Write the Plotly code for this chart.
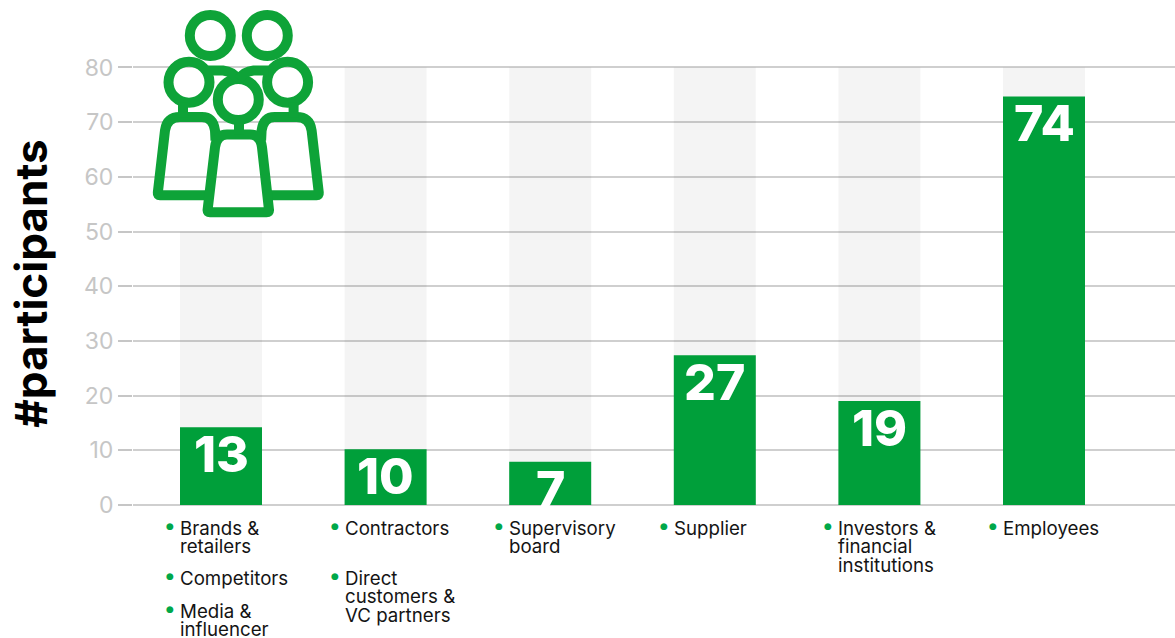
"""Participants per stakeholder group, green bars on grey tracks with a people icon."""
import plotly.graph_objects as go

# ── Data ───────────────────────────────────────────────────────────────────────
CATEGORIES = ["Brands", "Contractors", "Supervisory", "Supplier", "Investors", "Employees"]
BAR_HEIGHTS = [14.2, 10.2, 7.9, 27.4, 19.0, 74.7]
BAR_LABELS = ["13", "10", "7", "27", "19", "74"]
TRACK_TOPS = [50, 80, 80, 80, 80, 80]
Y_TICKS = [0, 10, 20, 30, 40, 50, 60, 70, 80]
GROUPS = [
    [["Brands &", "retailers"], ["Competitors"], ["Media &", "influencer"]],
    [["Contractors"], ["Direct", "customers &", "VC partners"]],
    [["Supervisory", "board"]],
    [["Supplier"]],
    [["Investors &", "financial", "institutions"]],
    [["Employees"]],
]

# ── Style ──────────────────────────────────────────────────────────────────────
GREEN = "#009F3A"
ICON_GREEN = "#0EA338"
GRID = "#CFCFCF"
TICK = "#C6C6C6"
FONT = "Inter, sans-serif"

W, H = 1175, 638
Y_MAX = 81  # a little over 80 so plotly still draws the top gridline
UNIT = 5.475
BOTTOM = 505
LEFT, RIGHT, TOP = 133, 1175, BOTTOM - Y_MAX * UNIT
BAR_STEP = 164.6
BAR_PX = 82
ROW_Y = [528, 578, 611]
LINE_STEP = 18.8


def px(x):
    return (x - LEFT) / (RIGHT - LEFT)


def py(y):
    return (BOTTOM - y) / (BOTTOM - TOP)


def path(points, close=False):
    """SVG path in paper coords from (cmd, x, y, ...) tuples given in page pixels."""
    parts = []
    for p in points:
        coords = [f"{px(p[i])},{py(p[i + 1])}" for i in range(1, len(p), 2)]
        parts.append(p[0] + " ".join(coords))
    return " ".join(parts) + (" Z" if close else "")


def icon_shapes():
    line = dict(color=ICON_GREEN, width=10)
    shapes = []
    for cx, cy in [(210.3, 35), (267.3, 35), (189, 81.7), (287.6, 81.7), (238.3, 99)]:
        r = 20.5
        shapes.append(dict(type="circle", xref="paper", yref="paper",
                           x0=px(cx - r), x1=px(cx + r), y0=py(cy + r), y1=py(cy - r),
                           line=line, layer="above"))
    mirror = lambda x: 476.6 - x
    for f in (lambda x: x, mirror):
        body = [("M", f(208), 195), ("L", f(160), 195), ("Q", f(157.5), 195, f(157.8), 192.5),
                ("L", f(165), 130),
                ("Q", f(167), 116.7, f(180), 116.7), ("L", f(202), 116.7),
                ("Q", f(213), 116.7, f(215), 130), ("L", f(215.5), 140)]
        neck = [("M", f(183), 102), ("L", f(183), 116.7)]
        arm = [("M", f(208), 70), ("L", f(223), 70), ("Q", f(233), 71, f(238), 79)]
        for pts in (body, neck, arm):
            shapes.append(dict(type="path", xref="paper", yref="paper", path=path(pts),
                               line=line, layer="above"))
    centre = [("M", 210, 212), ("L", 266.6, 212), ("Q", 269.3, 212, 269, 209.5), ("L", 262, 147),
              ("Q", 260.5, 134, 250, 134), ("L", 227, 134), ("Q", 216.5, 134, 215, 147),
              ("L", 207.6, 209.5), ("Q", 207.3, 212, 210, 212)]
    shapes.append(dict(type="path", xref="paper", yref="paper", path=path(centre, True),
                       line=line, layer="above"))
    shapes.append(dict(type="path", xref="paper", yref="paper",
                       path=path([("M", 239, 122), ("L", 239, 134)]), line=line, layer="above"))
    return shapes


# white patches that hide the grid: the gap beside the ticks and the area behind the icon
masks = [
    dict(type="rect", xref="paper", yref="paper", x0=px(LEFT), x1=px(141.5), y0=-0.01, y1=1.01,
         fillcolor="white", line_width=0, layer="between"),
    dict(type="rect", xref="paper", yref="paper", x0=px(141), x1=px(347), y0=py(229), y1=1.01,
         fillcolor="white", line_width=0, layer="between"),
]

annotations = []
for cat, items in zip(CATEGORIES, GROUPS):
    for row, lines in zip(ROW_Y, items):
        annotations.append(dict(x=cat, y=0, xref="x", yref="y", text="●", showarrow=False,
                                xanchor="center", yanchor="middle", xshift=-BAR_PX / 2 - 10,
                                yshift=BOTTOM - row + 2, font=dict(color="#00A84A", size=9, family="DejaVu Sans")))
        for i, text in enumerate(lines):
            annotations.append(dict(x=cat, y=0, xref="x", yref="y", text=text, showarrow=False,
                                    xanchor="left", yanchor="middle", xshift=-BAR_PX / 2 - 2,
                                    yshift=BOTTOM - row - i * LINE_STEP,
                                    font=dict(color="#141414", size=18.7, family=FONT)))

# value labels hang from the bar top; the 7 nearly fills its short bar
for cat, height, label in zip(CATEGORIES, BAR_HEIGHTS, BAR_LABELS):
    annotations.append(dict(x=cat, y=height, xref="x", yref="y", text=label, showarrow=False,
                            xanchor="center", yanchor="top", yshift=5,
                            font=dict(color="white", size=50, family=FONT, weight=800)))

fig = go.Figure()
fig.add_trace(go.Bar(x=CATEGORIES, y=TRACK_TOPS, marker=dict(color="rgba(0,0,0,0.042)", line_width=0),
                     width=BAR_PX / BAR_STEP, hoverinfo="skip", showlegend=False))
fig.add_trace(go.Bar(x=CATEGORIES, y=BAR_HEIGHTS, marker=dict(color=GREEN, line_width=0),
                     width=BAR_PX / BAR_STEP, showlegend=False))

fig.update_layout(
    width=W, height=H,
    paper_bgcolor="white", plot_bgcolor="white",
    barmode="overlay",
    margin=dict(l=LEFT, r=W - RIGHT, t=TOP, b=H - BOTTOM, pad=0),
    shapes=masks + icon_shapes(),
    annotations=annotations,
    xaxis=dict(type="category", categoryorder="array", categoryarray=CATEGORIES,
               range=[(LEFT - 221) / BAR_STEP, (RIGHT - 221) / BAR_STEP],
               showgrid=False, zeroline=False, showticklabels=False, ticks="", showline=False),
    yaxis=dict(range=[0, Y_MAX], tickvals=Y_TICKS, ticks="outside", ticklen=14, tickwidth=2, tickcolor=TICK,
               tickfont=dict(color=TICK, size=23, family=FONT), showgrid=True, gridcolor=GRID, gridwidth=2,
               zeroline=True, zerolinecolor=GRID, zerolinewidth=2, showline=False,
               title=dict(text="#participants", standoff=22,
                          font=dict(color="black", size=44, family=FONT, weight=700))),
)

fig.write_html("out.html", config={"displayModeBar": False},
               post_script="document.body.style.margin='0';document.body.style.overflow='hidden';")
